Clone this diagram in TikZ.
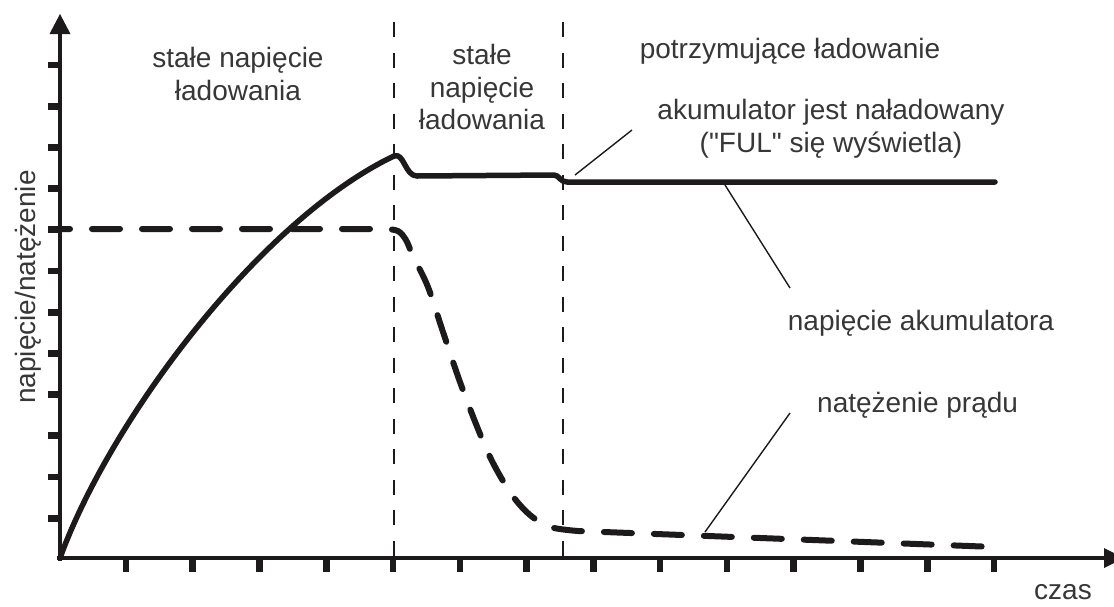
\documentclass[tikz,border=0pt]{standalone}
\usepackage{fontspec}
\setmainfont{Liberation Sans}[Ligatures=TeXOff]
\definecolor{ink}{RGB}{28,26,26}
\definecolor{txt}{RGB}{55,55,55}
\begin{document}
\begin{tikzpicture}[x=1pt,y=-1pt,
  lbl/.style={inner sep=0pt, text=txt, font=\fontsize{28}{32.5}\selectfont, align=center},
  axisline/.style={line width=4.6pt, draw=ink},
  tickmark/.style={fill=ink},
  phaseline/.style={dash pattern=on 15pt off 15.5pt, line width=2.2pt, draw=ink},
  voltage/.style={line width=5.5pt, draw=ink, line cap=round, line join=round},
  current/.style={line width=6pt, draw=ink, line cap=round, line join=round, dash pattern=on 28pt off 22pt, dash phase=11pt},
  leader/.style={line width=1.4pt, draw=ink}]
\useasboundingbox (0,0) rectangle (1114,606);
\fill[white] (0,0) rectangle (1114,606);

% axes
\coordinate (O) at (60,558);
\coordinate (ytop) at (60,30);
\coordinate (xend) at (1108,558);
\draw[axisline] (60,561) -- (ytop);
\fill[ink] (49.5,34) -- (70.5,34) -- (60,14) -- cycle;
\draw[axisline] (57,558) -- (xend);
\fill[ink] (1104,548) -- (1104,568) -- (1124,558) -- cycle;

% ticks
\foreach \k in {0,...,11}{
  \fill[tickmark] (47.5,{65+41.2*\k-3.4}) rectangle (60,{65+41.2*\k+3.4});
}
\foreach \k in {0,...,13}{
  \fill[tickmark] ({126+66.77*\k-3.3},558) rectangle ({126+66.77*\k+3.3},571.5);
}

% phase boundaries
\coordinate (p1top) at (394,22);
\coordinate (p1bot) at (394,558);
\coordinate (p2top) at (563,22);
\coordinate (p2bot) at (563,558);
\draw[phaseline] (p1top) -- (p1bot);
\draw[phaseline] (p2top) -- (p2bot);

% voltage curve
\draw[voltage] (O) .. controls (110,420) and (260,220) .. (394,156)
  .. controls (404,152) and (405,176) .. (417,176) -- (554,175)
  .. controls (559,175) and (560,182) .. (567,182) -- (995,182);

% current curve
\draw[current] (53,229) -- (386,229) -- plot[smooth, tension=0.55] coordinates {(386,229) (398,231) (406,240) (413,256) (428,287) (443,332) (460,382) (478,429) (493,463) (512,495) (530,515) (550,527) (578,531)} -- (995,547);

% labels
\node[lbl, anchor=north] (phA) at (238,47.5) {stałe napięcie\\ładowania};
\node[lbl, anchor=north] (phB) at (482,44.5) {stałe\\napięcie\\ładowania};
\node[lbl, anchor=base] (phC) at (790,58) {potrzymujące ładowanie};
\node[lbl, anchor=north] (full) at (831,99.5) {akumulator jest naładowany\\("FUL" się wyświetla)};
\node[lbl, anchor=base] (vlab) at (921,330) {napięcie akumulatora};
\node[lbl, anchor=base west] (ilab) at (817,412) {natężenie prądu};
\node[lbl, anchor=base] (tlab) at (1063,599) {czas};
\node[lbl, anchor=base, rotate=90] (ylab) at (35,287) {napięcie/natężenie};

% leaders
\coordinate (l1a) at (632,130);
\coordinate (l1b) at (575,175);
\coordinate (l2a) at (725,185);
\coordinate (l2b) at (790,288);
\coordinate (l3a) at (790,413);
\coordinate (l3b) at (705,532);
\draw[leader] (l1a) -- (l1b);
\draw[leader] (l2a) -- (l2b);
\draw[leader] (l3a) -- (l3b);
\end{tikzpicture}
\end{document}
